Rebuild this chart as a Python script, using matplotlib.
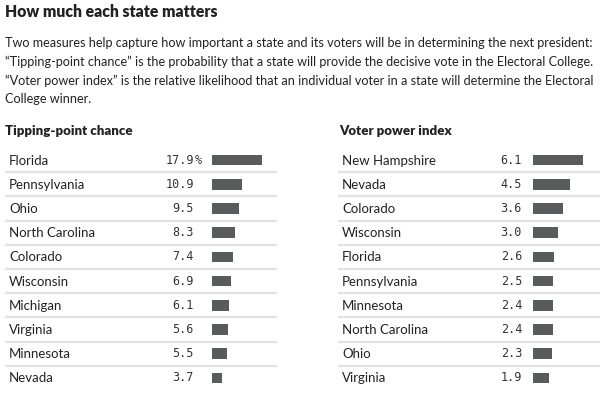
import matplotlib
matplotlib.use("Agg")
import matplotlib.pyplot as plt
from matplotlib.transforms import blended_transform_factory

# data
tipping_states = ["Florida", "Pennsylvania", "Ohio", "North Carolina", "Colorado",
                  "Wisconsin", "Michigan", "Virginia", "Minnesota", "Nevada"]
tipping_values = [17.9, 10.9, 9.5, 8.3, 7.4, 6.9, 6.1, 5.6, 5.5, 3.7]

power_states = ["New Hampshire", "Nevada", "Colorado", "Wisconsin", "Florida",
                "Pennsylvania", "Minnesota", "North Carolina", "Ohio", "Virginia"]
power_values = [6.1, 4.5, 3.6, 3.0, 2.6, 2.5, 2.4, 2.4, 2.3, 1.9]

title = "How much each state matters"
intro = [
    "Two measures help capture how important a state and its voters will be in determining the next president:",
    "\u201cTipping-point chance\u201d is the probability that a state will provide the decisive vote in the Electoral College.",
    "\u201cVoter power index\u201d is the relative likelihood that an individual voter in a state will determine the Electoral",
    "College winner.",
]

W, H = 600, 399
SANS = "Lato"
MONO = "DejaVu Sans Mono"
BAR = "#595b5c"
RULE = "#e2e2e2"

fig = plt.figure(figsize=(W / 100, H / 100), dpi=100)
fig.patch.set_facecolor("white")


def fx(px):
    return px / W


def fy(py):
    return 1 - py / H


fig.text(fx(5), fy(12), title, fontsize=11.3, fontweight="heavy", family=SANS,
         color="#222222", va="center", ha="left")
for i, line in enumerate(intro):
    fig.text(fx(5), fy(43 + i * 18.8), line, fontsize=9.05, family=SANS,
             color="#222222", va="center", ha="left")


def table(x0, x1, bar_x0, bar_px, header, header_x, label_x, value_x,
          states, values, pct_first):
    # axes spans the table rows; x in data units with bars starting at 0
    top, bottom = 148, 390
    ax = fig.add_axes([fx(x0), fy(bottom), fx(x1 - x0), (bottom - top) / H])
    scale = bar_px / max(values)  # px per unit
    ax.set_xlim(-(bar_x0 - x0) / scale, (x1 - bar_x0) / scale)
    n = len(states)
    ax.set_ylim(n - 0.5, -0.5)
    ax.axis("off")

    ax.barh(range(n), values, height=0.44, color=BAR, left=0)
    for i in range(n - 1):
        ax.axhline(i + 0.5, color=RULE, lw=1.6)

    tr = blended_transform_factory(fig.transFigure, ax.transData)
    for i, (s, v) in enumerate(zip(states, values)):
        ax.text(fx(label_x), i + 0.02, s, transform=tr, fontsize=9.5, family=SANS,
                color="#222222", va="center", ha="left")
        ax.text(fx(value_x), i, f"{v:.1f}", transform=tr, fontsize=8.5,
                family=MONO, color="#333333", va="center", ha="right")
        if pct_first and i == 0:
            ax.text(fx(value_x + 1), i, "%", transform=tr, fontsize=8.5,
                    family=MONO, color="#333333", va="center", ha="left")

    fig.text(fx(header_x), fy(131), header, fontsize=9.5, fontweight="heavy",
             family=SANS, color="#222222", va="center", ha="left")


table(5, 277, 212, 50, "Tipping-point chance", 5, 9, 194,
      tipping_states, tipping_values, True)
table(338, 600, 533, 50, "Voter power index", 339, 342, 522,
      power_states, power_values, False)

fig.savefig("out.png", dpi=100)
